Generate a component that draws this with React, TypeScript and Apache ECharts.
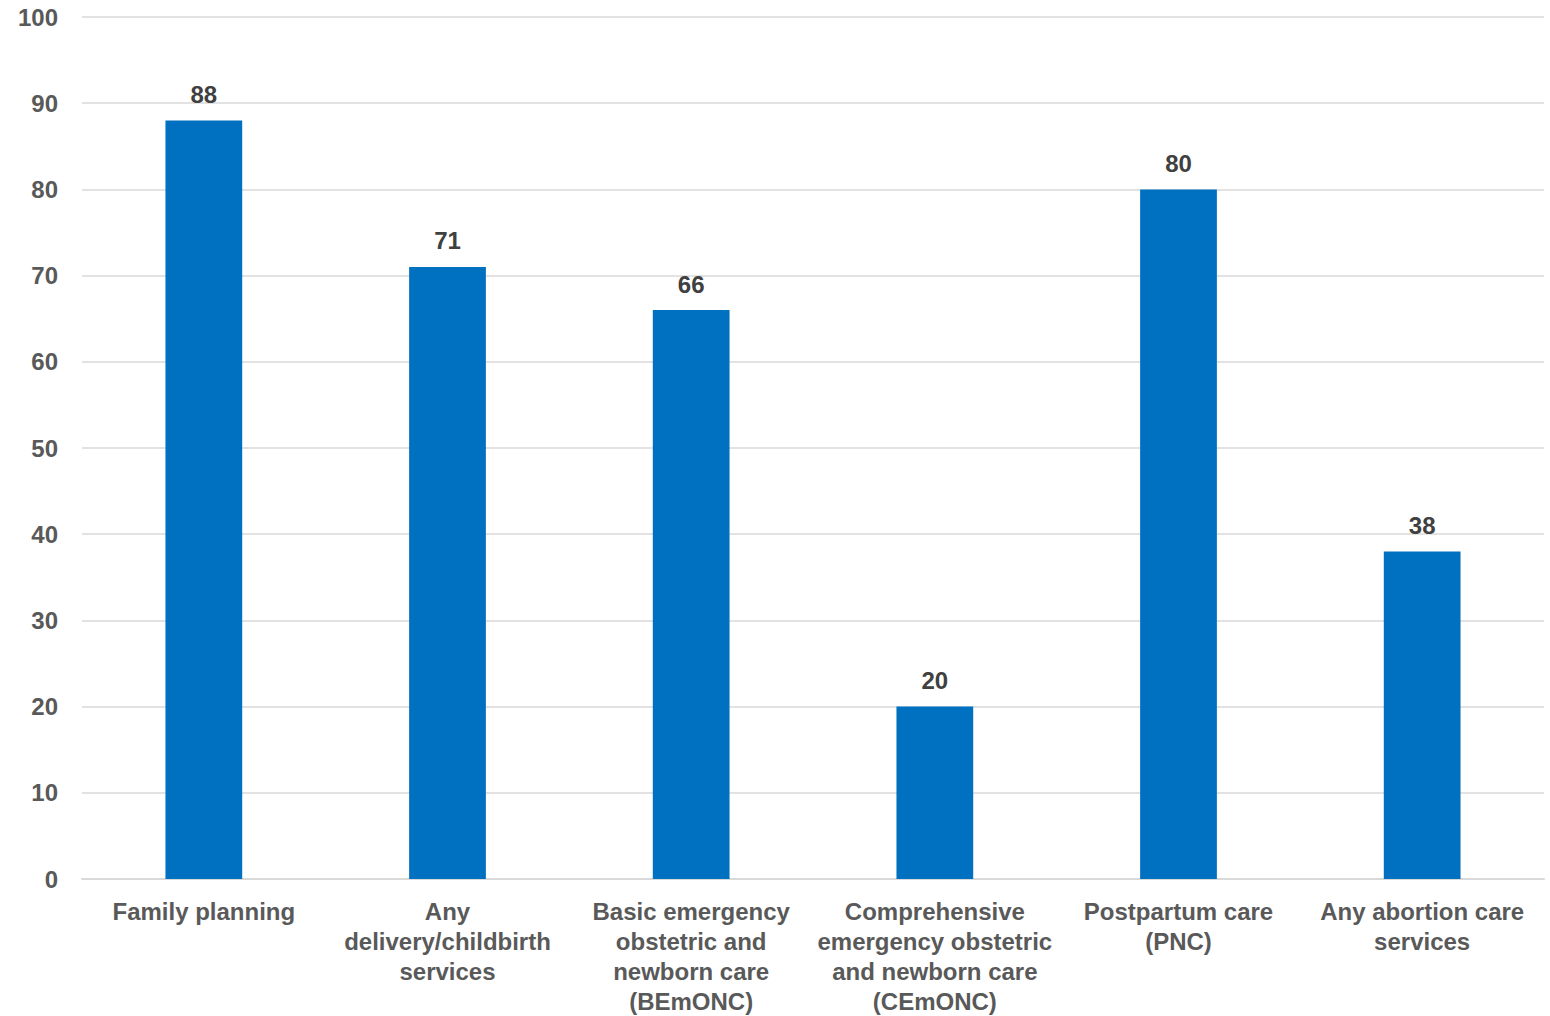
import React, { useEffect, useRef } from "react";
import * as echarts from "echarts";

// Share of facilities offering each service (%)
const categories = [
  "Family planning",
  "Any\ndelivery/childbirth\nservices",
  "Basic emergency\nobstetric and\nnewborn care\n(BEmONC)",
  "Comprehensive\nemergency obstetric\nand newborn care\n(CEmONC)",
  "Postpartum care\n(PNC)",
  "Any abortion care\nservices",
];
const values = [88, 71, 66, 20, 80, 38];

export default function App() {
  const ref = useRef<HTMLDivElement>(null);

  useEffect(() => {
    if (!ref.current) return;
    const chart = echarts.init(ref.current, null, { renderer: "svg" });
    const font = "'Liberation Sans', Arial, sans-serif";
    chart.setOption({
      animation: false,
      grid: { left: 82, right: 6, top: 17, bottom: 135, containLabel: false },
      xAxis: {
        type: "category",
        data: categories,
        axisLine: { lineStyle: { color: "#d9d9d9", width: 2 } },
        axisTick: { show: false },
        axisLabel: {
          interval: 0,
          margin: 17,
          color: "#595959",
          fontFamily: font,
          fontWeight: "bold",
          fontSize: 24,
          lineHeight: 30,
        },
      },
      yAxis: {
        type: "value",
        min: 0,
        max: 100,
        interval: 10,
        axisLine: { show: false },
        axisTick: { show: false },
        splitLine: { lineStyle: { color: "#d9d9d9", width: 1.5 } },
        axisLabel: {
          margin: 24,
          color: "#595959",
          fontFamily: font,
          fontWeight: "bold",
          fontSize: 24,
        },
      },
      series: [
        {
          type: "bar",
          data: values,
          barWidth: "31.5%",
          itemStyle: { color: "#0070C0" },
          label: {
            show: true,
            position: "top",
            distance: 14,
            color: "#404040",
            fontFamily: font,
            fontWeight: "bold",
            fontSize: 24,
          },
        },
      ],
    });
    return () => chart.dispose();
  }, []);

  return (
    <div
      ref={ref}
      style={{ position: "fixed", left: 0, top: 0, width: 1550, height: 1016, background: "#fff" }}
    />
  );
}
